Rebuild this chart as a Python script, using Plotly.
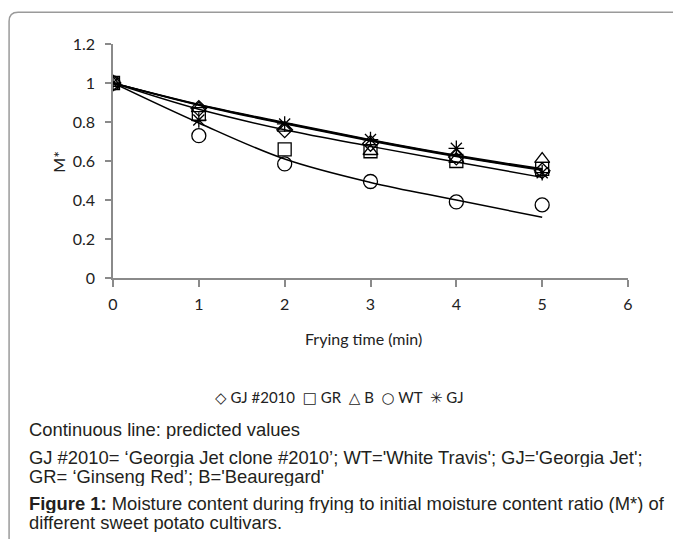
import plotly.graph_objects as go

# ---- data ----
time_min = [0, 1, 2, 3, 4, 5]
series_names = ["GJ #2010", "GR", "B", "WT", "GJ"]
obs_gj2010 = [1.0, 0.87, 0.76, 0.69, 0.62, 0.55]
obs_gr = [1.0, 0.84, 0.66, 0.65, 0.60, 0.56]
obs_b = [1.0, 0.87, 0.77, 0.65, 0.61, 0.61]
obs_wt = [1.0, 0.73, 0.585, 0.495, 0.39, 0.375]
obs_gj = [1.0, 0.81, 0.79, 0.71, 0.665, 0.54]

pred_gj2010 = [1.0, 0.888, 0.794, 0.706, 0.626, 0.556]
pred_gr = [1.0, 0.865, 0.76, 0.675, 0.595, 0.516]
pred_b = [1.0, 0.886, 0.791, 0.703, 0.623, 0.552]
pred_wt = [1.0, 0.795, 0.61, 0.49, 0.40, 0.311]
pred_gj = [1.0, 0.89, 0.797, 0.709, 0.629, 0.56]

x_ticks = [0, 1, 2, 3, 4, 5, 6]
y_ticks = [0, 0.2, 0.4, 0.6, 0.8, 1.0, 1.2]
y_tick_labels = ["0", "0.2", "0.4", "0.6", "0.8", "1", "1.2"]
legend_glyphs = ["\u25c7", "\u25a1", "\u25b3", "\u25cb", "\u2733"]

caption_note = "Continuous line: predicted values"
caption_abbr1 = "GJ #2010= \u2018Georgia Jet clone #2010\u2019; WT='White Travis'; GJ='Georgia Jet';"
caption_abbr2 = "GR= \u2018Ginseng Red\u2019; B='Beauregard'"
caption_fig = "<b>Figure 1:</b> Moisture content during frying to initial moisture content ratio (M*) of"
caption_fig2 = "different sweet potato cultivars."

observed = [obs_gj2010, obs_gr, obs_b, obs_wt, obs_gj]
predicted = [pred_gj2010, pred_gr, pred_b, pred_wt, pred_gj]
symbols = ["diamond-open", "square-open", "triangle-up-open", "circle-open", "asterisk-open"]
sizes = [12, 13, 13, 14, 13]

fig = go.Figure()
for pred in predicted:
    fig.add_trace(go.Scatter(x=time_min, y=pred, mode="lines", line=dict(color="black", width=1.5, shape="spline"),
                             showlegend=False, hoverinfo="skip"))
for name, obs, sym, sz in zip(series_names, observed, symbols, sizes):
    fig.add_trace(go.Scatter(x=time_min, y=obs, mode="markers", name=name, showlegend=False,
                             marker=dict(symbol=sym, size=sz, color="black", line=dict(color="black", width=1.3))))

axis_color = "#8a8a8a"
tick_font = dict(family="Lato, Open Sans, sans-serif", size=16, color="#222")
fig.update_xaxes(range=[0, 6], tickvals=x_ticks, showline=True, linecolor=axis_color, linewidth=1.5,
                 ticks="outside", ticklen=7, tickcolor=axis_color, tickwidth=1.5, showgrid=False, zeroline=False,
                 tickfont=tick_font, ticklabelstandoff=4)
fig.update_yaxes(range=[0, 1.2], tickvals=y_ticks, ticktext=y_tick_labels, showline=True, linecolor=axis_color,
                 linewidth=1.5, ticks="outside", ticklen=6, tickcolor=axis_color, tickwidth=1.5, showgrid=False,
                 zeroline=False, tickfont=tick_font, ticklabelstandoff=7)

# page body has an 8px margin: figure is shrunk so it fits the 681x539 window
OFF = 8
W, H = 681 - OFF, 539 - OFF
L, T = 113.3 - OFF, 44.3 - OFF
R = W - (627.7 - OFF)
B = H - (277.7 - OFF)
pw, ph = W - L - R, H - T - B

def px(sx):
    return (sx - OFF - L) / pw

def py(sy):
    return (H - B - (sy - OFF)) / ph

ann = []
ann.append(dict(text="Frying time (min)", x=px(364), y=py(338), xref="paper", yref="paper", showarrow=False,
                font=dict(family="Lato, sans-serif", size=16, color="#222"), xanchor="center", yanchor="middle"))
ann.append(dict(text="M*", x=px(58), y=py(162), xref="paper", yref="paper", showarrow=False, textangle=-90,
                font=dict(family="Lato, sans-serif", size=16, color="#222"), xanchor="center", yanchor="middle"))

legend_parts = []
for g, n in zip(legend_glyphs, series_names):
    legend_parts.append(f"<span style='font-family:DejaVu Sans'>{g}</span> {n}")
legend_text = "  ".join(legend_parts)
ann.append(dict(text=legend_text, x=px(340), y=py(397), xref="paper", yref="paper", showarrow=False,
                font=dict(family="Lato, sans-serif", size=15, color="#222"), xanchor="center", yanchor="middle"))

cap_font = dict(family="Liberation Sans, Arial, sans-serif", size=18.4, color="#231f20")
for txt, yp in [(caption_note, 429), (caption_abbr1, 457), (caption_abbr2, 476), (caption_fig, 503), (caption_fig2, 522)]:
    ann.append(dict(text=txt, x=px(27), y=py(yp), xref="paper", yref="paper", showarrow=False,
                    font=cap_font, xanchor="left", yanchor="middle", align="left", height=19))

r = 9
x0, ytop = 9.5, 12.7
border_path = (f"M {px(x0)},{py(560)} L {px(x0)},{py(ytop + r)} Q {px(x0)},{py(ytop)} {px(x0 + r)},{py(ytop)} "
               f"L {px(700)},{py(ytop)}")

fig.update_layout(
    width=W, height=H, margin=dict(l=L, r=R, t=T, b=B),
    plot_bgcolor="white", paper_bgcolor="white",
    annotations=ann, showlegend=False,
    shapes=[dict(type="path", path=border_path, xref="paper", yref="paper", line=dict(color="#9a9a9a", width=1.5))],
)

fig.write_html("out.html")
